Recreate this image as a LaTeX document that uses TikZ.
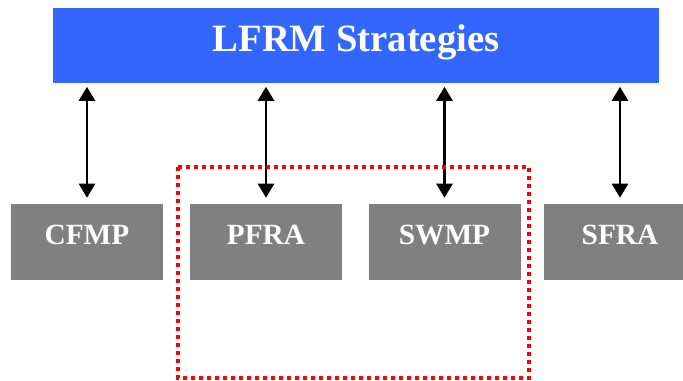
\documentclass[tikz,border=0pt]{standalone}
\usepackage{fontspec}
\setmainfont{Liberation Serif}
\usetikzlibrary{positioning, arrows.meta}
\definecolor{stratblue}{HTML}{3366FF}
\definecolor{methgray}{HTML}{808080}
\begin{document}
\begin{tikzpicture}[x=0.75pt, y=-0.75pt, >={Triangle[length=10.5pt, width=12pt]}]
            \tikzset{
                strat/.style={
                        fill=stratblue, text=white, font=\fontsize{29}{30}\selectfont\bfseries,
                        minimum width=454.5pt, inner xsep=0pt, inner ysep=0pt,
                        text height=33pt, text depth=23.3pt
                    },
                method/.style={
                        fill=methgray, text=white, font=\fontsize{22}{24}\selectfont\bfseries,
                        minimum width=114pt, inner xsep=0pt, inner ysep=0pt,
                        text height=30.5pt, text depth=26.5pt
                    },
                link/.style={<->, line width=1.8pt, shorten <=2.6pt, shorten >=4.5pt}
            }
            \useasboundingbox (0,0) rectangle (683,381);
            \clip (0,0) rectangle (683,381);

            % Top box
            \node[strat] (top) at (356,45.5) {LFRM Strategies};

            % Methods
            \node[method] (cfmp) at (87,242) {CFMP};
            \node[method] (pfra) at (266,242) {PFRA};
            \node[method] (swmp) at (444.5,242) {SWMP};
            \node[method] (sfra) at (620,242) {SFRA};

            % Links
            \foreach \m in {cfmp, pfra, swmp, sfra}
                \draw[link] (top.south -| \m.north) -- (\m.north);

            % Highlight
            \draw[red, line width=2.6pt, dash pattern=on 3pt off 3pt]
                (178,167) rectangle (529,378);
        \end{tikzpicture}
\end{document}
